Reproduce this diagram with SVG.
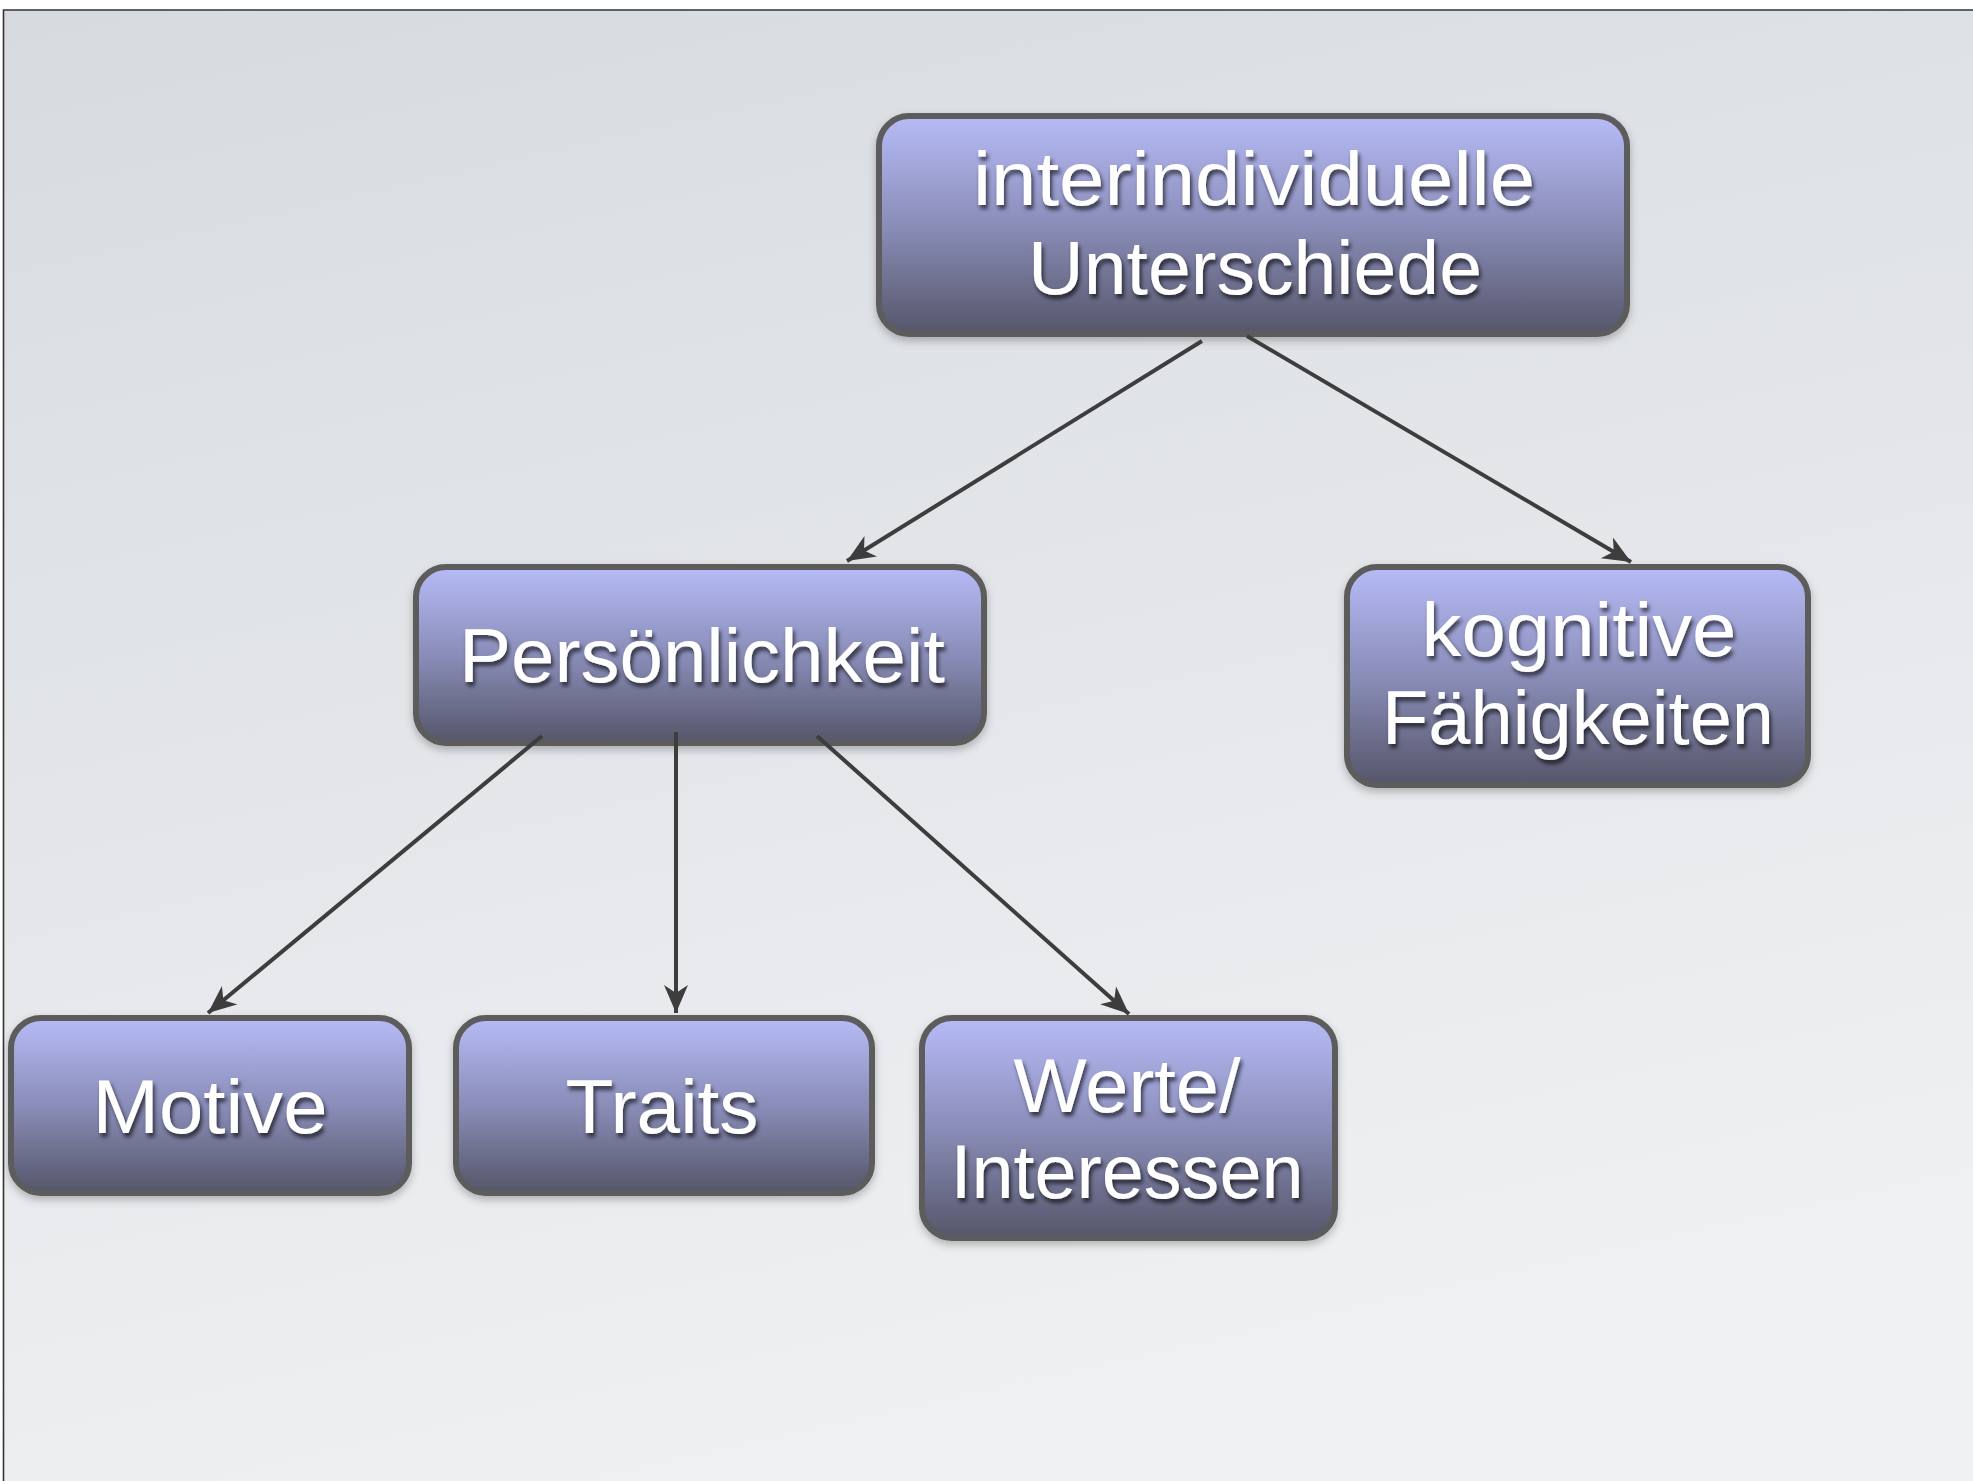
<svg xmlns="http://www.w3.org/2000/svg" width="1973" height="1481" viewBox="0 0 1973 1481">
<defs>
<linearGradient id="bg" x1="0" y1="0" x2="0.3" y2="1">
<stop offset="0" stop-color="#d7dbe0"/>
<stop offset="1" stop-color="#eff0f2"/>
</linearGradient>
<linearGradient id="box" x1="0" y1="0" x2="0" y2="1">
<stop offset="0" stop-color="#b6bbf7"/>
<stop offset="0.5" stop-color="#8a8db8"/>
<stop offset="1" stop-color="#55566a"/>
</linearGradient>
<filter id="ts" x="-10%" y="-30%" width="120%" height="160%">
<feDropShadow dx="2" dy="4" stdDeviation="2" flood-color="#000" flood-opacity="0.65"/>
</filter>
<filter id="bs" x="-10%" y="-10%" width="120%" height="130%">
<feDropShadow dx="0" dy="4" stdDeviation="4" flood-color="#000" flood-opacity="0.25"/>
</filter>
<marker id="ah" markerUnits="userSpaceOnUse" markerWidth="32" markerHeight="28" refX="28" refY="12" orient="auto">
<path d="M0,0 L28,12 L0,24 L8,12 Z" fill="#3d3d3d"/>
</marker>
</defs>
<style>
.node rect{fill:url(#box);stroke:#5b5b5b;stroke-width:6;filter:url(#bs)}
.node text{font-family:"Liberation Sans",Arial,sans-serif;font-size:76px;fill:#ffffff;text-anchor:middle;filter:url(#ts)}
.conn line{stroke:#3d3d3d;stroke-width:4;marker-end:url(#ah)}
</style>
<rect x="0" y="0" width="1973" height="1481" fill="#ffffff"/>
<rect x="4" y="10" width="1969" height="1471" fill="url(#bg)"/>
<path d="M3.5,1481 L3.5,10 L1973,10" fill="none" stroke="#333" stroke-width="1.6"/>
<g id="node-unterschiede" class="node">
<rect x="879" y="116" width="748" height="218" rx="30"/>
<text x="1254" y="205" textLength="562" lengthAdjust="spacingAndGlyphs">interindividuelle</text>
<text x="1255" y="294" textLength="454" lengthAdjust="spacingAndGlyphs">Unterschiede</text>
</g>
<g id="node-persoenlichkeit" class="node">
<rect x="416" y="567" width="568" height="176" rx="30"/>
<text x="702" y="682" textLength="486" lengthAdjust="spacingAndGlyphs">Persönlichkeit</text>
</g>
<g id="node-kognitive" class="node">
<rect x="1347" y="567" width="461" height="218" rx="30"/>
<text x="1579" y="656" textLength="315" lengthAdjust="spacingAndGlyphs">kognitive</text>
<text x="1578" y="744" textLength="392" lengthAdjust="spacingAndGlyphs">Fähigkeiten</text>
</g>
<g id="node-motive" class="node">
<rect x="11" y="1018" width="398" height="175" rx="30"/>
<text x="210" y="1133" textLength="235" lengthAdjust="spacingAndGlyphs">Motive</text>
</g>
<g id="node-traits" class="node">
<rect x="456" y="1018" width="416" height="175" rx="30"/>
<text x="662" y="1133" textLength="193" lengthAdjust="spacingAndGlyphs">Traits</text>
</g>
<g id="node-werte" class="node">
<rect x="922" y="1018" width="413" height="220" rx="30"/>
<text x="1127" y="1112" textLength="227" lengthAdjust="spacingAndGlyphs">Werte/</text>
<text x="1127" y="1198" textLength="353" lengthAdjust="spacingAndGlyphs">Interessen</text>
</g>
<g id="connectors" class="conn">
<line x1="1202" y1="341" x2="847" y2="561"/>
<line x1="1247" y1="336" x2="1631" y2="562"/>
<line x1="542" y1="736" x2="208" y2="1013"/>
<line x1="676" y1="732" x2="676" y2="1013"/>
<line x1="817" y1="736" x2="1129" y2="1014"/>
</g>
</svg>
